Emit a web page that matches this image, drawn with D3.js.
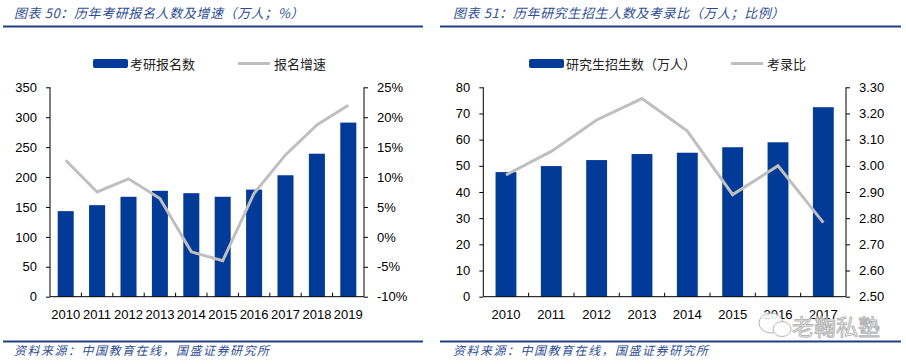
<!DOCTYPE html>
<html><head><meta charset="utf-8">
<script src="https://cdn.jsdelivr.net/npm/d3@7"></script>
<style>
body{margin:0;background:#fff;}
svg{display:block;}
text{font-family:"Liberation Sans",Arial,sans-serif;}
.cjk{font-family:"Noto Sans CJK SC","Noto Sans",sans-serif;}
</style></head><body>
<svg id="c" width="906" height="364"></svg>
<script>
// ---- data ----
const years1 = ["2010","2011","2012","2013","2014","2015","2016","2017","2018","2019"];
const applicants = [143,153,167,177,173,167,179,203,239,291];
const growth = [12.8,7.5,9.7,6.4,-2.5,-4.0,7.3,13.7,18.7,22.0];
const yTicks1L = [0,50,100,150,200,250,300,350];
const yTicks1R = [-10,-5,0,5,10,15,20,25];

const years2 = ["2010","2011","2012","2013","2014","2015","2016","2017"];
const enrolled = [47.6,49.9,52.2,54.5,55.0,57.1,59.0,72.4];
const ratio = [2.965,3.055,3.175,3.257,3.133,2.89,3.0,2.783];
const yTicks2L = [0,10,20,30,40,50,60,70,80];
const yTicks2R = [2.5,2.6,2.7,2.8,2.9,3.0,3.1,3.2,3.3];

const titles = ["图表 50：历年考研报名人数及增速（万人；%）","图表 51：历年研究生招生人数及考录比（万人；比例）"];
const source = "资料来源：中国教育在线，国盛证券研究所";
const legend1 = ["考研报名数","报名增速"];
const legend2 = ["研究生招生数（万人）","考录比"];

const BLUE = "#023A97", GRAY = "#BFBFBF", TITLEC = "#2E4E93", RULE = "#1F3F7F";
const svg = d3.select("#c");

function panel(o){
  const g = svg.append("g");
  // title + rules
  g.append("text").attr("class","cjk").attr("x",o.titleX).attr("y",18)
    .attr("font-size",13).attr("font-style","italic").attr("letter-spacing",0.6).attr("fill",TITLEC).text(o.title);
  g.append("rect").attr("x",o.ruleX0).attr("y",25.5).attr("width",o.ruleX1-o.ruleX0).attr("height",2).attr("fill",RULE);
  g.append("rect").attr("x",o.ruleX0).attr("y",340.5).attr("width",o.ruleX1-o.ruleX0).attr("height",2).attr("fill",RULE);
  g.append("text").attr("class","cjk").attr("x",o.titleX).attr("y",355)
    .attr("font-size",12).attr("font-style","italic").attr("letter-spacing",1.5).attr("fill",TITLEC).text(source);

  const top=87.3, bot=296.7;
  const x = d3.scaleBand().domain(o.cats).range([o.x0,o.x1]).paddingInner(o.pad).paddingOuter(o.pad/2);
  const yL = d3.scaleLinear().domain([o.ticksL[0],o.ticksL[o.ticksL.length-1]]).range([bot,top]);
  const yR = d3.scaleLinear().domain([o.ticksR[0],o.ticksR[o.ticksR.length-1]]).range([bot,top]);

  g.selectAll(".bar").data(o.bars).enter().append("rect")
    .attr("x",(d,i)=>x(o.cats[i])).attr("width",x.bandwidth())
    .attr("y",d=>yL(d)).attr("height",d=>bot-yL(d)).attr("fill",BLUE);

  const line = d3.line().x((d,i)=>x(o.cats[i])+x.bandwidth()/2).y(d=>yR(d));
  g.append("path").datum(o.line).attr("d",line).attr("fill","none")
    .attr("stroke",GRAY).attr("stroke-width",3);

  // axes
  const axL = d3.axisLeft(yL).tickValues(o.ticksL).tickSize(4).tickPadding(9).tickFormat(o.fmtL);
  const axR = d3.axisRight(yR).tickValues(o.ticksR).tickSize(4).tickPadding(9).tickFormat(o.fmtR);
  [[axL,o.x0],[axR,o.x1]].forEach(([ax,px])=>{
    const a = g.append("g").attr("transform",`translate(${px},0)`).call(ax);
    a.select(".domain").attr("d",`M0,${top}V${bot}`).attr("stroke","#000");
    a.selectAll("line").attr("stroke","#000");
    a.selectAll("text").attr("font-size",13).attr("fill","#000")
      .style("font-family","'Liberation Sans',Arial,sans-serif");
  });
  // x axis
  const xa = g.append("g");
  xa.append("line").attr("x1",o.x0).attr("x2",o.x1).attr("y1",bot).attr("y2",bot).attr("stroke","#000");
  const step = x.step();
  o.cats.forEach((c,i)=>{
    if(i>0){ const tx=o.x0+step*i; xa.append("line").attr("x1",tx).attr("x2",tx).attr("y1",bot).attr("y2",bot-4).attr("stroke","#000"); }
    xa.append("text").attr("x",x(c)+x.bandwidth()/2).attr("y",319).attr("text-anchor","middle")
      .attr("font-size",13).attr("fill","#000").text(c);
  });

  // legend
  const L = o.leg;
  g.append("rect").attr("x",L.rx).attr("y",59).attr("width",35).attr("height",9).attr("rx",2).attr("fill",BLUE);
  g.append("text").attr("class","cjk").attr("x",L.rx+37).attr("y",68.5).attr("font-size",13).attr("fill","#222").text(o.legend[0]);
  g.append("line").attr("x1",L.lx).attr("x2",L.lx+32).attr("y1",63.5).attr("y2",63.5).attr("stroke",GRAY).attr("stroke-width",3);
  g.append("text").attr("class","cjk").attr("x",L.lx+36).attr("y",68.5).attr("font-size",13).attr("fill","#222").text(o.legend[1]);
}

panel({title:titles[0],titleX:14,ruleX0:3,ruleX1:423,cats:years1,bars:applicants,line:growth,
  ticksL:yTicks1L,ticksR:yTicks1R,x0:50,x1:364,pad:0.49,fmtL:d=>d,fmtR:d=>d+"%",
  legend:legend1,leg:{rx:93,lx:238}});
panel({title:titles[1],titleX:453,ruleX0:440,ruleX1:901,cats:years2,bars:enrolled,line:ratio,
  ticksL:yTicks2L,ticksR:yTicks2R,x0:483.3,x1:846,pad:0.54,fmtL:d=>d,fmtR:d=>d.toFixed(2),
  legend:legend2,leg:{rx:529,lx:731}});

// watermark
const wm = svg.append("g").attr("opacity",0.85);
wm.append("ellipse").attr("cx",771).attr("cy",323).attr("rx",12).attr("ry",10).attr("fill","#fff").attr("stroke","#aaa").attr("stroke-width",1);
wm.append("ellipse").attr("cx",782).attr("cy",329).attr("rx",9).attr("ry",7.5).attr("fill","#fff").attr("stroke","#aaa").attr("stroke-width",1);
wm.append("text").attr("class","cjk").attr("x",792).attr("y",335).attr("font-size",22)
  .attr("fill","#fff").attr("stroke","#aaa").attr("stroke-width",1).text("老鞠私塾");
</script></body></html>
